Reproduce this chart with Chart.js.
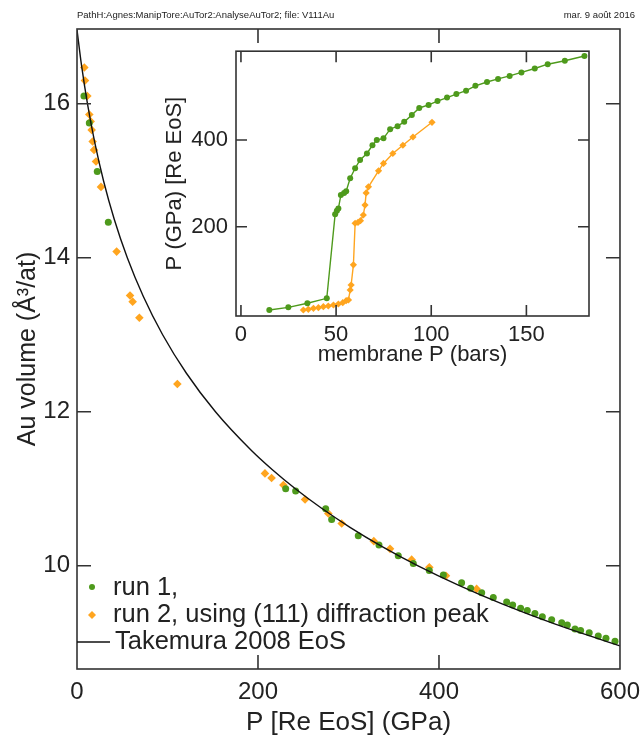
<!DOCTYPE html>
<html>
<head>
<meta charset="utf-8">
<script src="https://cdn.jsdelivr.net/npm/chart.js@4"></script>
<style>
  body { margin: 0; background: #fff; }
  #wrap { position: relative; width: 643px; height: 744px; overflow: hidden; }
  #insetChart { position: absolute; left: 160px; top: 30px; }
</style>
</head>
<body>
<div id="wrap">
  <canvas id="mainChart" width="649" height="744"></canvas>
  <canvas id="insetChart" width="460" height="350"></canvas>
</div>
<script>
// main plot: Au volume vs pressure, [P (GPa), V (A^3/at)]
const run1 = [[7.7,16.10],[13.6,15.75],[22.4,15.12],[34.6,14.46],[230.6,11.0],[241.6,10.97],[274.8,10.74],[281.4,10.60],
  [310.8,10.39],[333.7,10.27],[355,10.13],[371.6,10.03],[389.3,9.94],[404.8,9.88],[425,9.78],[435,9.71],[447.2,9.65],
  [460,9.59],[474.8,9.53],[481.4,9.49],[490.2,9.45],[497.6,9.42],[506,9.38],[514.2,9.34],[524.5,9.30],[535.6,9.26],
  [541.8,9.23],[550.3,9.18],[556.5,9.16],[566,9.13],[576,9.09],[584.5,9.06],[594.5,9.02]];
const run2 = [[8.1,16.47],[8.8,16.30],[11.4,16.10],[13.6,15.86],[15.1,15.77],[16.2,15.66],[17.3,15.51],[18.8,15.40],
  [21,15.25],[26.5,14.92],[43.8,14.08],[58.6,13.51],[61.5,13.43],[68.9,13.22],[110.9,12.36],[207.7,11.20],[215,11.14],
  [228,11.05],[252,10.86],[277.7,10.68],[292.5,10.55],[328,10.32],[345.9,10.22],[369.8,10.08],[389.3,9.98],[407.7,9.87],
  [441.6,9.70]];
const takemura = [[0,16.96],[4.98,16.5],[11.55,16],[19.54,15.5],[29.29,15],[41.15,14.5],[55.59,14],[73.19,13.5],
  [94.64,13],[120.9,12.5],[153.0,12],[192.5,11.5],[215.6,11.25],[241.3,11],[269.9,10.75],[301.7,10.5],[337.2,10.25],
  [376.9,10],[421.4,9.75],[471.1,9.5],[527.0,9.25],[589.8,9.0],[600,8.96]];
const mainXTicks = [0, 200, 400, 600];
const mainYTicks = [10, 12, 14, 16];

// inset: [membrane P (bars), P (GPa)]
const inset1 = [[14.9,7.8],[24.9,14],[34.9,23.3],[45.1,34.8],[49.5,229],[50.4,237],[51.2,242],[52.5,273],[54.2,278],
  [55.3,282],[57.4,312],[60,335],[62.6,354],[66.2,369],[69.1,388],[71.4,400],[74.9,404],[78.4,425],[82.3,432],
  [85.8,442],[89.8,458],[93.7,474],[98.6,481],[103.3,490],[108.3,498],[113.2,506],[118.3,514],[123.2,525],[129.3,534],
  [135.1,541],[141.2,548],[147.4,556],[154.4,565],[161.2,575],[170.2,583],[180.5,594]];
const inset2 = [[32.8,7.8],[35.4,9.5],[38.1,11.8],[40.7,13.2],[43.3,15.5],[45.9,17.1],[48.6,19.4],[51.2,21.7],
  [53.5,24.7],[55.3,29.3],[56.5,31],[57.4,54],[57.9,65.5],[59.1,112],[60,208],[61.5,210],[62.8,214],[64.3,227],
  [65.2,250],[65.8,278],[67,292],[72.3,329],[74.9,346],[79.8,369],[85.1,388],[90.4,407],[100.4,441]];
const insetXTicks = [0, 50, 100, 150];
const insetYTicks = [200, 400];

const green = '#4e9a1c';
const orange = '#ffa51f';
const ink = '#222';

Chart.defaults.font.family = "'Liberation Sans', Arial, sans-serif";
Chart.defaults.color = ink;

function pts(arr) {
  return arr.map(p => ({x: p[0], y: p[1]}));
}

// box round the plot with inward tick marks on all four sides
function frameTicks(xMarks, yMarks, len) {
  return {
    id: 'frameTicks',
    afterDatasetsDraw(chart) {
      const {ctx, chartArea: a, scales: {x, y}} = chart;
      ctx.save();
      ctx.strokeStyle = '#333';
      ctx.lineWidth = 1.6;
      ctx.strokeRect(a.left, a.top, a.right - a.left, a.bottom - a.top);
      ctx.beginPath();
      xMarks.forEach(v => {
        const px = x.getPixelForValue(v);
        ctx.moveTo(px, a.bottom); ctx.lineTo(px, a.bottom - len);
        ctx.moveTo(px, a.top); ctx.lineTo(px, a.top + len);
      });
      yMarks.forEach(v => {
        const py = y.getPixelForValue(v);
        ctx.moveTo(a.left, py); ctx.lineTo(a.left + len, py);
        ctx.moveTo(a.right, py); ctx.lineTo(a.right - len, py);
      });
      ctx.stroke();
      ctx.restore();
    }
  };
}

const legendAndHeader = {
  id: 'legendAndHeader',
  afterDraw(chart) {
    const ctx = chart.ctx;
    ctx.save();
    ctx.fillStyle = ink;
    ctx.font = "9.5px 'Liberation Sans', Arial, sans-serif";
    ctx.textBaseline = 'middle';
    ctx.textAlign = 'left';
    ctx.fillText('PathH:Agnes:ManipTore:AuTor2:AnalyseAuTor2; file: V111Au', 77, 15);
    ctx.textAlign = 'right';
    ctx.fillText('mar. 9 août 2016', 635, 15);

    ctx.font = "25.5px 'Liberation Sans', Arial, sans-serif";
    ctx.textAlign = 'left';
    ctx.fillText('run 1,', 113, 588);
    ctx.fillText('run 2, using (111) diffraction peak', 113, 615);
    ctx.fillText('Takemura 2008 EoS', 115, 642);

    ctx.fillStyle = green;
    ctx.beginPath(); ctx.arc(92, 587, 3, 0, Math.PI * 2); ctx.fill();
    ctx.fillStyle = orange;
    ctx.beginPath();
    ctx.moveTo(92, 611); ctx.lineTo(96, 615); ctx.lineTo(92, 619); ctx.lineTo(88, 615);
    ctx.closePath(); ctx.fill();
    ctx.strokeStyle = '#111';
    ctx.lineWidth = 1.4;
    ctx.beginPath(); ctx.moveTo(77, 642); ctx.lineTo(110, 642); ctx.stroke();
    ctx.restore();
  }
};

new Chart(document.getElementById('mainChart'), {
  type: 'scatter',
  data: {
    datasets: [{
      label: 'Takemura 2008 EoS',
      data: pts(takemura),
      showLine: true,
      cubicInterpolationMode: 'monotone',
      borderColor: '#111',
      borderWidth: 1.4,
      pointRadius: 0
    }, {
      label: 'run 1,',
      data: pts(run1),
      pointStyle: 'circle',
      pointRadius: 3.5,
      backgroundColor: green,
      borderWidth: 0
    }, {
      label: 'run 2, using (111) diffraction peak',
      data: pts(run2),
      pointStyle: 'rectRot',
      pointRadius: 4.3,
      backgroundColor: orange,
      borderWidth: 0
    }]
  },
  options: {
    responsive: false,
    animation: false,
    layout: { padding: { top: 29, right: 0, left: 0, bottom: 0 } },
    plugins: { legend: { display: false }, tooltip: { enabled: false } },
    scales: {
      x: {
        type: 'linear', min: 0, max: 600,
        grid: { display: false, drawTicks: false },
        border: { display: false },
        ticks: { padding: 9, font: { size: 24 } },
        afterBuildTicks: s => { s.ticks = mainXTicks.map(v => ({value: v})); },
        afterFit: s => { s.height = 75; },
        title: { display: true, text: 'P [Re EoS] (GPa)', font: { size: 26 }, padding: { top: 0, bottom: 6 } }
      },
      y: {
        type: 'linear', min: 8.66, max: 16.97,
        grid: { display: false, drawTicks: false },
        border: { display: false },
        ticks: { padding: 7, font: { size: 24 } },
        afterBuildTicks: s => { s.ticks = mainYTicks.map(v => ({value: v})); },
        afterFit: s => { s.width = 77; },
        title: { display: true, text: 'Au volume (Å³/at)', font: { size: 25 }, padding: { top: 13, bottom: 0 } }
      }
    }
  },
  plugins: [frameTicks([200, 400], mainYTicks, 14), legendAndHeader]
});

new Chart(document.getElementById('insetChart'), {
  type: 'scatter',
  data: {
    datasets: [{
      data: pts(inset1),
      showLine: true,
      borderColor: green,
      borderWidth: 1.4,
      pointStyle: 'circle',
      pointRadius: 3,
      backgroundColor: green,
      pointBorderWidth: 0
    }, {
      data: pts(inset2),
      showLine: true,
      borderColor: orange,
      borderWidth: 1.4,
      pointStyle: 'rectRot',
      pointRadius: 3.6,
      backgroundColor: orange,
      pointBorderWidth: 0
    }]
  },
  options: {
    responsive: false,
    animation: false,
    layout: { padding: { top: 0, right: 31, left: 0, bottom: 0 } },
    plugins: { legend: { display: false }, tooltip: { enabled: false } },
    scales: {
      x: {
        type: 'linear', min: -2.6, max: 182.9,
        grid: { display: false, drawTicks: false },
        border: { display: false },
        ticks: { padding: 6, font: { size: 22 } },
        afterBuildTicks: s => { s.ticks = insetXTicks.map(v => ({value: v})); },
        afterFit: s => { s.height = 64; },
        title: { display: true, text: 'membrane P (bars)', font: { size: 22 }, padding: { top: 0, bottom: 12 } }
      },
      y: {
        type: 'linear', min: -6, max: 605,
        grid: { display: false, drawTicks: false },
        border: { display: false },
        ticks: { padding: 8, font: { size: 22 } },
        afterBuildTicks: s => { s.ticks = insetYTicks.map(v => ({value: v})); },
        afterFit: s => { s.width = 76; },
        title: { display: true, text: 'P (GPa) [Re EoS]', font: { size: 22 }, padding: { top: 2, bottom: 0 } }
      }
    }
  },
  plugins: [frameTicks(insetXTicks, insetYTicks, 11)]
});
</script>
</body>
</html>
